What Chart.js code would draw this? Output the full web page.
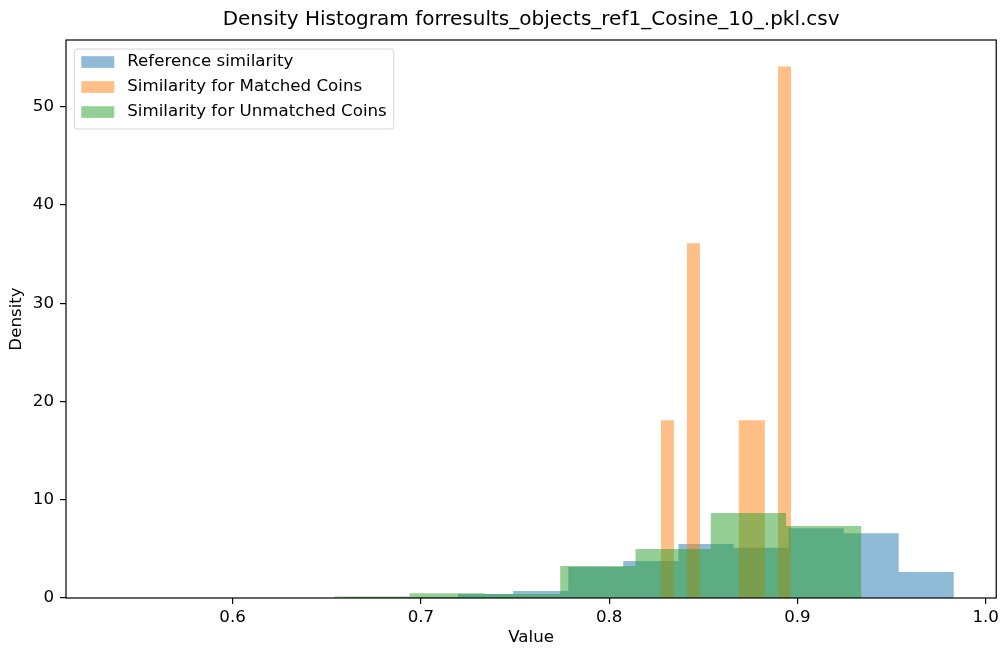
<!DOCTYPE html>
<html>
<head>
<meta charset="utf-8">
<script src="https://cdn.jsdelivr.net/npm/chart.js@4.4.1/dist/chart.umd.min.js"></script>
<style>
    html, body { margin: 0; padding: 0; background: #fff; }
</style>
</head>
<body>
<canvas id="histChart" width="1003" height="650"></canvas>
<script>
// Bin edges and densities
const refEdges = [0.5442, 0.5735, 0.6027, 0.6320, 0.6612, 0.6905, 0.7197, 0.7490,
    0.7783, 0.8075, 0.8368, 0.8661, 0.8953, 0.9246, 0.9538, 0.9831];
const refDensity = [0, 0, 0, 0, 0.05, 0.1, 0.4, 0.7, 3.15, 3.77, 5.5, 5.12, 7.1, 6.6, 2.65];

const matchedEdges = [0.8275, 0.8344, 0.8413, 0.8482, 0.8551, 0.8620, 0.8689, 0.8758,
    0.8827, 0.8897, 0.8966];
const matchedDensity = [18.1, 0, 36.1, 0, 0, 0, 18.1, 18.1, 0, 54.1];

const unmatchedEdges = [0.534, 0.574, 0.614, 0.654, 0.694, 0.734, 0.774, 0.814, 0.854, 0.894, 0.934];
const unmatchedDensity = [0, 0, 0, 0.15, 0.48, 0.4, 3.26, 5.0, 8.65, 7.33];

const seriesLabels = ['Reference similarity', 'Similarity for Matched Coins', 'Similarity for Unmatched Coins'];
const seriesColors = ['rgba(31, 119, 180, 0.5)', 'rgba(255, 127, 14, 0.5)', 'rgba(44, 160, 44, 0.5)'];

const xTicks = [0.6, 0.7, 0.8, 0.9, 1.0];
const yTicks = [0, 10, 20, 30, 40, 50];
const xRange = [0.5115, 1.0056];
const yRange = [0, 56.8];

const FONT = 'DejaVu Sans';
Chart.defaults.font.family = FONT;
Chart.defaults.color = '#000';

// one point per bin start, plus a closing point at the last edge
function toSteps(edges, density) {
    const pts = density.map((d, i) => ({ x: edges[i], y: d }));
    pts.push({ x: edges[edges.length - 1], y: 0 });
    return pts;
}

function histDataset(label, edges, density, color, order) {
    return {
        label,
        data: toSteps(edges, density),
        stepped: true,
        fill: 'origin',
        backgroundColor: color,
        borderColor: 'transparent',
        borderWidth: 0,
        pointRadius: 0,
        order
    };
}

// matplotlib-style legend inside the axes
const insideLegend = {
    id: 'insideLegend',
    afterDraw(chart) {
        const { ctx, chartArea } = chart;
        const size = 16.67;
        ctx.save();
        ctx.font = `${size}px "${FONT}"`;
        const textW = Math.max(...seriesLabels.map(l => ctx.measureText(l).width));
        const x0 = chartArea.left + 8.3;
        const y0 = chartArea.top + 9;
        const w = 53 + textW + 7;
        const h = 80;
        ctx.beginPath();
        if (ctx.roundRect) ctx.roundRect(x0, y0, w, h, 3); else ctx.rect(x0, y0, w, h);
        ctx.fillStyle = 'rgba(255, 255, 255, 0.8)';
        ctx.fill();
        ctx.strokeStyle = 'rgba(204, 204, 204, 0.8)';
        ctx.lineWidth = 1;
        ctx.stroke();
        seriesLabels.forEach((label, i) => {
            const cy = y0 + 13 + i * 25;
            ctx.fillStyle = seriesColors[i];
            ctx.fillRect(x0 + 7, cy - 5.8, 33, 11.7);
            ctx.fillStyle = '#000';
            ctx.textBaseline = 'middle';
            ctx.fillText(label, x0 + 53, cy);
        });
        ctx.restore();
    }
};

// full box around the plot area
const axesBox = {
    id: 'axesBox',
    afterDatasetsDraw(chart) {
        const { ctx, chartArea } = chart;
        ctx.save();
        ctx.strokeStyle = '#000';
        ctx.lineWidth = 1.2;
        ctx.strokeRect(chartArea.left, chartArea.top, chartArea.right - chartArea.left, chartArea.bottom - chartArea.top);
        ctx.restore();
    }
};

const labelFont = { family: FONT, size: 16.67 };

new Chart(document.getElementById('histChart'), {
    type: 'line',
    data: {
        datasets: [
            histDataset(seriesLabels[0], refEdges, refDensity, seriesColors[0], 3),
            histDataset(seriesLabels[1], matchedEdges, matchedDensity, seriesColors[1], 2),
            histDataset(seriesLabels[2], unmatchedEdges, unmatchedDensity, seriesColors[2], 1)
        ]
    },
    options: {
        responsive: false,
        animation: false,
        layout: { padding: { left: 0, right: 5, top: 0, bottom: 0 } },
        plugins: {
            legend: { display: false },
            tooltip: { enabled: false },
            title: {
                display: true,
                fullSize: false,
                text: 'Density Histogram forresults_objects_ref1_Cosine_10_.pkl.csv',
                color: '#000',
                font: { family: FONT, size: 20, weight: 'normal' },
                padding: { top: 8, bottom: 8 }
            }
        },
        scales: {
            x: {
                type: 'linear',
                min: xRange[0],
                max: xRange[1],
                afterBuildTicks: s => { s.ticks = xTicks.map(v => ({ value: v })); },
                afterFit: s => { s.height = 52; },
                border: { display: false },
                grid: { drawOnChartArea: false, drawTicks: true, tickLength: 6, color: '#000', lineWidth: 1.2 },
                ticks: { font: labelFont, color: '#000', padding: 4, maxRotation: 0, callback: v => v.toFixed(1) },
                title: { display: true, text: 'Value', color: '#000', font: labelFont, padding: { top: 0, bottom: 2 } }
            },
            y: {
                type: 'linear',
                min: yRange[0],
                max: yRange[1],
                afterBuildTicks: s => { s.ticks = yTicks.map(v => ({ value: v })); },
                afterFit: s => { s.width = 66; },
                border: { display: false },
                grid: { drawOnChartArea: false, drawTicks: true, tickLength: 6, color: '#000', lineWidth: 1.2 },
                ticks: { font: labelFont, color: '#000', padding: 6 },
                title: { display: true, text: 'Density', color: '#000', font: labelFont, padding: { top: 7, bottom: 0 } }
            }
        }
    },
    plugins: [insideLegend, axesBox]
});
</script>
</body>
</html>
